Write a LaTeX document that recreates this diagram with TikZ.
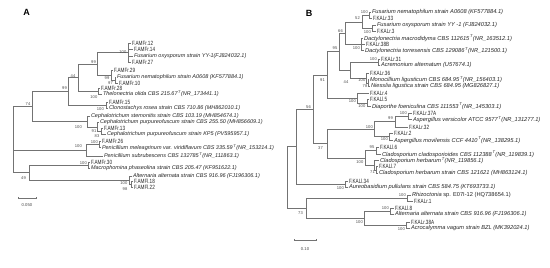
\documentclass[tikz,border=0pt]{standalone}
\usepackage{fontspec}
\setmainfont{Liberation Sans}
\newfontfamily\narrowfont[FakeStretch=0.76]{Liberation Sans}
\newcommand{\supT}{\textsuperscript{\,T}}
\newcommand{\tolf}[2]{\foreach \c in {#2} {\draw[br] (#1) |- (\c.west);}}
\newcommand{\toin}[2]{\foreach \c in {#2} {\draw[br] (#1) |- (\c);}}
\tikzset{
  br/.style={draw=black!55, line width=0.5pt},
  leaf/.style={anchor=west, inner xsep=0.8pt, inner ysep=0pt, font=\itshape\fontsize{5.5}{6}\selectfont, text=black!85},
  leafB/.style={leaf, font=\itshape\fontsize{5.7}{6}\selectfont},
  flab/.style={anchor=west, inner xsep=0.8pt, inner ysep=0pt, font=\narrowfont\fontsize{6.1}{7}\selectfont, text=black!85},
  bs/.style={anchor=east, inner sep=0pt, font=\fontsize{4.1}{4.5}\selectfont, text=black!70},
  panel/.style={font=\bfseries\fontsize{9}{9}\selectfont},
  sclab/.style={font=\fontsize{4.2}{4.5}\selectfont, text=black!70},
}
\begin{document}
\begin{tikzpicture}[x=1pt,y=-1pt]
\useasboundingbox[fill=white] (0,0) rectangle (550,268);
% ================= Panel A =================
\node[panel] (LA) at (26.5,12.5) {A};
% leaves
\node[flab] (a1) at (131,43) {F.AMFr.12};
\node[flab] (a2) at (133,49) {F.AMFr.14};
\node[leaf] (a3) at (133,56) {Fusarium oxysporum strain YY-1(FJ824032.1)};
\node[flab] (a4) at (131,62) {F.AMFr.27};
\node[flab] (a5) at (113,70) {F.AMFr.29};
\node[leaf] (a6) at (116,77) {Fusarium nematophilum strain A0608 (KF577884.1)};
\node[flab] (a7) at (118,83) {F.AMFr.10};
\node[flab] (a8) at (100,88) {F.AMFr.28};
\node[leaf] (a9) at (102,94) {Thelonectria olida CBS 215.67\supT(NR\_173441.1)};
\node[flab] (a10) at (108,102) {F.AMFr.15};
\node[leaf] (a11) at (108,108) {Clonostachys rosea strain CBS 710.86 (MH862010.1)};
\node[leaf] (a12) at (90,116) {Cephalotrichum stemonitis strain CBS 103.19 (MH854674.1)};
\node[leaf] (a13) at (99,122.5) {Cephalotrichum purpureofuscum strain CBS 255.50 (MH856609.1)};
\node[flab] (a14) at (103,128) {F.AMFr.13};
\node[leaf] (a15) at (106,134) {Cephalotrichum purpureofuscum strain KP5 (PV595957.1)};
\node[flab] (a16) at (101,141.5) {F.AMFr.26};
\node[leaf] (a17) at (101,147.5) {Penicillium meleagrinum var. viridiflavum CBS 335.59\supT(NR\_153214.1)};
\node[leaf] (a18) at (103,156) {Penicillium subrubescens CBS 132785\supT(NR\_111863.1)};
\node[flab] (a19) at (90,162) {F.AMFr.30};
\node[leaf] (a20) at (90,168) {Macrophomina phaseolina strain CBS 205.47 (KF951622.1)};
\node[leaf] (a21) at (132,176) {Alternaria alternata strain CBS 916.96 (FJ196306.1)};
\node[flab] (a22) at (133,181.5) {F.AMFl.18};
\node[flab] (a23) at (133,187.5) {F.AMFl.22};
% internal nodes
\coordinate (nA1) at (128,52.5);
\coordinate (nA97) at (115,80);
\coordinate (nA99c) at (111,75);
\coordinate (nA99a) at (97,63.75);
\coordinate (nA28) at (98,91);
\coordinate (nA44) at (78,77.4);
\coordinate (nA15) at (106,105);
\coordinate (nA99b) at (68,91.2);
\coordinate (nA83) at (101,131);
\coordinate (nA91) at (97,127);
\coordinate (nACeph) at (87,121.5);
\coordinate (nA74) at (32,106);
\coordinate (nAPsub) at (99,144.5);
\coordinate (nAPen) at (86,150);
\coordinate (nAMac) at (88,165);
\coordinate (nA98) at (131,184.5);
\coordinate (nAAlt) at (129,180);
\coordinate (nA49) at (29,172.5);
\coordinate (rootA) at (13,140);
% branches
\tolf{nA1}{a1,a2,a3,a4}
\tolf{nA97}{a6,a7}
\tolf{nA99c}{a5}\toin{nA99c}{nA97}
\toin{nA99a}{nA1,nA99c}
\tolf{nA28}{a8,a9}
\toin{nA44}{nA99a,nA28}
\tolf{nA15}{a10,a11}
\toin{nA99b}{nA44,nA15}
\tolf{nA83}{a14,a15}
\tolf{nA91}{a13}\toin{nA91}{nA83}
\tolf{nACeph}{a12}\toin{nACeph}{nA91}
\toin{nA74}{nA99b,nACeph}
\tolf{nAPsub}{a16,a17}
\tolf{nAPen}{a18}\toin{nAPen}{nAPsub}
\tolf{nAMac}{a19,a20}
\tolf{nA98}{a22,a23}
\tolf{nAAlt}{a21}\toin{nAAlt}{nA98}
\toin{nA49}{nAMac,nAAlt}
\toin{rootA}{nA74,nAPen,nA49}
% bootstrap values
\node[bs] (bA1) at (126.5,52) {100};
\node[bs] (bA2) at (96,62) {99};
\node[bs] (bA3) at (109.5,78.5) {99};
\node[bs] (bA4) at (113,83) {97};
\node[bs] (bA5) at (75.5,76) {44};
\node[bs] (bA6) at (97.5,97.5) {100};
\node[bs] (bA7) at (67,88.5) {99};
\node[bs] (bA8) at (104,109.5) {100};
\node[bs] (bA9) at (30.5,104) {74};
\node[bs] (bA10) at (82,127) {100};
\node[bs] (bA11) at (96.5,131) {91};
\node[bs] (bA12) at (99.5,136) {83};
\node[bs] (bA13) at (98,142.5) {100};
\node[bs] (bA14) at (82,146.5) {100};
\node[bs] (bA15) at (87,163) {100};
\node[bs] (bA16) at (26,178) {49};
\node[bs] (bA17) at (127.5,183) {100};
\node[bs] (bA18) at (127.5,189) {98};
% scale bar
\coordinate (sA1) at (18,198);
\coordinate (sA2) at (36,198);
\draw[br] (sA1) -- (sA2);
\draw[br] ([yshift=1pt]sA1) -- ([yshift=-1pt]sA1);
\draw[br] ([yshift=1pt]sA2) -- ([yshift=-1pt]sA2);
\node[sclab] (sAl) at (27,205) {0.050};
% ================= Panel B =================
\node[panel] (LB) at (309,13) {B};
\node[leafB] (b1) at (371,12) {Fusarium nematophilum strain A0608 (KF577884.1)};
\node[flab] (b2) at (372,18.5) {F.KALr.33};
\node[leafB] (b3) at (376,25) {Fusarium oxysporum strain YY -1 (FJ824032.1)};
\node[flab] (b4) at (376,31) {F.KALr.3};
\node[leafB] (b5) at (363,38) {Dactylonectria macrodidyma CBS 112615\supT(NR\_163512.1)};
\node[flab] (b6) at (365,44) {F.KALr.38B};
\node[leafB] (b7) at (364,50.5) {Dactylonectria torresensis CBS 129086\supT(NR\_121500.1)};
\node[flab] (b8) at (380,59) {F.KALr.31};
\node[leafB] (b9) at (380,65) {Acremonium alternatum (U57674.1)};
\node[flab] (b10) at (369,73) {F.KALr.36};
\node[leafB] (b11) at (369,79.5) {Monocillium ligusticum CBS 684.95\supT(NR\_156403.1)};
\node[leafB] (b12) at (370,86) {Niesslia ligustica strain CBS 684.95 (MG826827.1)};
\node[flab] (b13) at (369,93) {F.KALr.4};
\node[flab] (b14) at (369,99.5) {F.KALl.5};
\node[leafB] (b15) at (371,106) {Diaporthe foeniculina CBS 111553\supT(NR\_145303.1)};
\node[flab] (b16) at (412,113) {F.KALr.37A};
\node[leafB] (b17) at (412,119.5) {Aspergillus versicolor ATCC 9577\supT(NR\_131277.1)};
\node[flab] (b18) at (408,127) {F.KALr.32};
\node[flab] (b19) at (393,133) {F.KALr.2};
\node[leafB] (b20) at (393,140) {Aspergillus movilensis CCF 4410\supT(NR\_138295.1)};
\node[flab] (b21) at (379,147) {F.KALl.6};
\node[leafB] (b22) at (381,154) {Cladosporium cladosporioides CBS 112388\supT(NR\_119839.1)};
\node[leafB] (b23) at (379,160.5) {Cladosporium herbarum\supT(NR\_119856.1)};
\node[flab] (b24) at (378,166.5) {F.KALl.7};
\node[leafB] (b25) at (378,173) {Cladosporium herbarum strain CBS 121621 (MH863124.1)};
\node[flab] (b26) at (348,181) {F.KALl.34};
\node[leafB] (b27) at (348,187) {Aureobasidium pullulans strain CBS 584.75 (KT693733.1)};
\node[leafB] (b28) at (411,195) {Rhizoctonia \upshape sp. E07I-12 (HQ738654.1)};
\node[flab] (b29) at (413,201) {F.KALr.1};
\node[flab] (b30) at (394,208) {F.KALl.8};
\node[leafB] (b31) at (394,214.5) {Alternaria alternata strain CBS 916.96 (FJ196306.1)};
\node[flab] (b32) at (410,222) {F.KALr.38A};
\node[leafB] (b33) at (410,228) {Acrocalymma vagum strain BZL (MK392024.1)};
% internal nodes
\coordinate (nB100a) at (369,15.5);
\coordinate (nB100b) at (372,28);
\coordinate (nB52) at (362,21.75);
\coordinate (nBDac) at (361,44.5);
\coordinate (nB66) at (345,33);
\coordinate (nBAcr) at (378,62);
\coordinate (nB78) at (368,83);
\coordinate (nBMon) at (366,78);
\coordinate (nB44) at (350,70);
\coordinate (nB95) at (339,51.5);
\coordinate (nBDin) at (367,103);
\coordinate (nBDia) at (357,98);
\coordinate (nB91) at (327,75);
\coordinate (nB37A) at (408,116);
\coordinate (nB99) at (395,121.5);
\coordinate (nBmov) at (389,136.5);
\coordinate (nBAsp) at (374,129);
\coordinate (nB95c) at (376,150.5);
\coordinate (nB71) at (376,170);
\coordinate (nBH) at (374,165.5);
\coordinate (nBClado) at (365,158);
\coordinate (nB37) at (327,143.5);
\coordinate (nB56) at (313,109);
\coordinate (nBAur) at (345,184);
\coordinate (nBN) at (296,146.5);
\coordinate (nBRh) at (407,198);
\coordinate (nBAl) at (390,211.5);
\coordinate (nBAc) at (406,225);
\coordinate (nBAA) at (364,218);
\coordinate (nB73) at (306,208);
\coordinate (rootB) at (287,177);
% branches
\tolf{nB100a}{b1,b2}
\tolf{nB100b}{b3,b4}
\toin{nB52}{nB100a,nB100b}
\tolf{nBDac}{b5,b6,b7}
\toin{nB66}{nB52,nBDac}
\tolf{nBAcr}{b8,b9}
\tolf{nB78}{b11,b12}
\tolf{nBMon}{b10}\toin{nBMon}{nB78}
\toin{nB44}{nBAcr,nBMon}
\toin{nB95}{nB66,nB44}
\tolf{nBDin}{b14,b15}
\tolf{nBDia}{b13}\toin{nBDia}{nBDin}
\toin{nB91}{nB95,nBDia}
\tolf{nB37A}{b16,b17}
\tolf{nB99}{b18}\toin{nB99}{nB37A}
\tolf{nBmov}{b19,b20}
\toin{nBAsp}{nB99,nBmov}
\tolf{nB95c}{b21,b22}
\tolf{nB71}{b24,b25}
\tolf{nBH}{b23}\toin{nBH}{nB71}
\toin{nBClado}{nB95c,nBH}
\toin{nB37}{nBAsp,nBClado}
\toin{nB56}{nB91,nB37}
\tolf{nBAur}{b26,b27}
\toin{nBN}{nB56,nBAur}
\tolf{nBRh}{b28,b29}
\tolf{nBAl}{b30,b31}
\tolf{nBAc}{b32,b33}
\toin{nBAA}{nBAl,nBAc}
\toin{nB73}{nBRh,nBAA}
\toin{rootB}{nBN,nB73}
% bootstrap values
\node[bs] (bB1) at (368,12) {100};
\node[bs] (bB2) at (360,18.5) {52};
\node[bs] (bB3) at (371,32) {100};
\node[bs] (bB4) at (343,31) {66};
\node[bs] (bB5) at (360,48) {100};
\node[bs] (bB6) at (337.5,48.5) {95};
\node[bs] (bB7) at (377,59) {100};
\node[bs] (bB8) at (325,80) {91};
\node[bs] (bB9) at (348.5,82) {44};
\node[bs] (bB10) at (365.5,80) {100};
\node[bs] (bB11) at (367.5,86) {78};
\node[bs] (bB12) at (356,101) {100};
\node[bs] (bB13) at (365.5,106.5) {100};
\node[bs] (bB14) at (311,107) {56};
\node[bs] (bB15) at (407,113) {100};
\node[bs] (bB16) at (393,118.5) {99};
\node[bs] (bB17) at (373,127.5) {100};
\node[bs] (bB18) at (388,139.5) {100};
\node[bs] (bB19) at (323,148) {37};
\node[bs] (bB20) at (374.5,147) {95};
\node[bs] (bB21) at (363.5,162) {100};
\node[bs] (bB22) at (375,172) {71};
\node[bs] (bB23) at (344,188) {100};
\node[bs] (bB24) at (406,195) {100};
\node[bs] (bB25) at (389,208) {100};
\node[bs] (bB26) at (303,213) {73};
\node[bs] (bB27) at (363,222) {100};
\node[bs] (bB28) at (405,229) {100};
% scale bar
\coordinate (sB1) at (294,240);
\coordinate (sB2) at (316,240);
\draw[br] (sB1) -- (sB2);
\draw[br] ([yshift=1pt]sB1) -- ([yshift=-1pt]sB1);
\draw[br] ([yshift=1pt]sB2) -- ([yshift=-1pt]sB2);
\node[sclab] (sBl) at (305,249) {0.10};
\end{tikzpicture}
\end{document}
